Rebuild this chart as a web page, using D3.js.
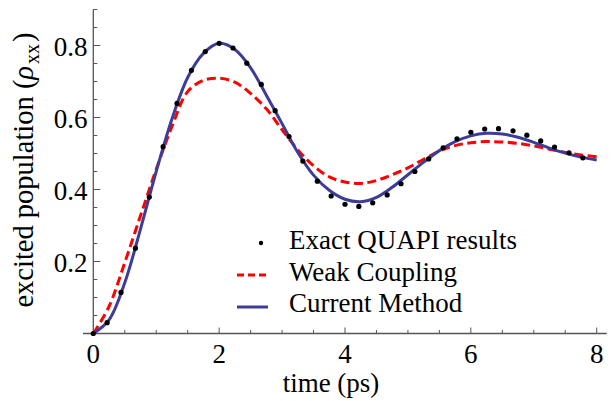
<!DOCTYPE html>
<html>
<head>
<meta charset="utf-8">
<script src="https://cdn.jsdelivr.net/npm/d3@7"></script>
<style>
  html, body { margin: 0; padding: 0; background: #fff; }
  svg text { font-family: "Liberation Serif", "Times New Roman", serif; fill: #000; }
</style>
</head>
<body>
<svg id="chart" width="611" height="401"></svg>
<script>
// ---- data ----
const times = [0,0.25,0.5,0.75,1,1.25,1.5,1.75,2,2.25,2.5,2.75,3,3.25,3.5,3.75,4,4.25,4.5,4.75,5,5.25,5.5,5.75,6,6.25,6.5,6.75,7,7.25,7.5,7.75,8];
const currentMethod = [0,0.038,0.141,0.290,0.450,0.596,0.711,0.778,0.806,0.789,0.738,0.662,0.583,0.503,0.440,0.398,0.373,0.366,0.378,0.406,0.441,0.476,0.508,0.533,0.549,0.556,0.554,0.545,0.531,0.515,0.501,0.490,0.482];
const weakCoupling = [0,0.075,0.197,0.327,0.456,0.575,0.672,0.703,0.709,0.698,0.667,0.624,0.566,0.510,0.466,0.435,0.421,0.417,0.425,0.441,0.460,0.484,0.507,0.522,0.530,0.533,0.532,0.528,0.521,0.512,0.503,0.496,0.491];
const quapiTimes = [0,0.22,0.44,0.67,0.89,1.11,1.33,1.56,1.78,2.00,2.22,2.44,2.67,2.89,3.11,3.33,3.56,3.78,4.00,4.22,4.44,4.67,4.89,5.11,5.33,5.56,5.78,6.00,6.22,6.44,6.67,6.89,7.11,7.33,7.56,7.78];
const quapiValues = [0,0.030,0.114,0.237,0.379,0.519,0.639,0.731,0.783,0.806,0.793,0.751,0.692,0.619,0.547,0.479,0.423,0.382,0.359,0.353,0.363,0.385,0.416,0.450,0.485,0.516,0.541,0.559,0.568,0.569,0.563,0.551,0.535,0.518,0.502,0.488];
const xTickLabels = [0,2,4,6,8];
const yTickLabels = [0.2,0.4,0.6,0.8];
const legendLabels = ["Exact QUAPI results","Weak Coupling","Current Method"];

// ---- drawing ----
const svg = d3.select("#chart");
const x = d3.scaleLinear().domain([0, 8]).range([93.3, 596.7]);
const y = d3.scaleLinear().domain([0, 0.9]).range([333.5, 9.5]);
const axisColor = "#555";
const blue = "#3d3d99";
const red = "#ff0000";

const axes = svg.append("g");
axes.append("line").attr("x1", 83).attr("x2", x(8.16)).attr("y1", y(0)).attr("y2", y(0))
  .attr("stroke", axisColor).attr("stroke-width", 1.3);
axes.append("line").attr("x1", x(0)).attr("x2", x(0)).attr("y1", y(0)).attr("y2", y(0.9))
  .attr("stroke", axisColor).attr("stroke-width", 1.3);

// x ticks
const xMinor = d3.range(0.5, 8.01, 0.5).filter(v => Math.abs(v - Math.round(v / 2) * 2) > 1e-6);
axes.selectAll(".xminor").data(xMinor).enter().append("line")
  .attr("x1", d => x(d)).attr("x2", d => x(d)).attr("y1", y(0)).attr("y2", y(0) - 3.5)
  .attr("stroke", axisColor).attr("stroke-width", 1);
axes.selectAll(".xmajor").data(xTickLabels.filter(d => d > 0)).enter().append("line")
  .attr("x1", d => x(d)).attr("x2", d => x(d)).attr("y1", y(0)).attr("y2", y(0) - 6)
  .attr("stroke", axisColor).attr("stroke-width", 1);
axes.selectAll(".xlab").data(xTickLabels).enter().append("text")
  .attr("x", d => x(d)).attr("y", y(0) + 29).attr("text-anchor", "middle")
  .attr("font-size", 27).text(d => d3.format("d")(d));

// y ticks
const yMinor = d3.range(0.05, 0.91, 0.05).filter(v => Math.abs(v * 5 - Math.round(v * 5)) > 1e-6);
axes.selectAll(".yminor").data(yMinor).enter().append("line")
  .attr("x1", x(0)).attr("x2", x(0) + 4).attr("y1", d => y(d)).attr("y2", d => y(d))
  .attr("stroke", axisColor).attr("stroke-width", 1);
axes.selectAll(".ymajor").data(yTickLabels).enter().append("line")
  .attr("x1", x(0)).attr("x2", x(0) + 7).attr("y1", d => y(d)).attr("y2", d => y(d))
  .attr("stroke", axisColor).attr("stroke-width", 1);
axes.selectAll(".ylab").data(yTickLabels).enter().append("text")
  .attr("x", 87.5).attr("y", d => y(d) + 10).attr("text-anchor", "end")
  .attr("font-size", 27).text(d => d3.format(".1f")(d));

// axis titles
svg.append("text").attr("x", 331).attr("y", 392).attr("text-anchor", "middle")
  .attr("font-size", 27).text("time (ps)");
const yt = svg.append("text").attr("transform", "translate(33,170) rotate(-90)")
  .attr("text-anchor", "middle").attr("font-size", 28.5);
yt.append("tspan").text("excited population (");
yt.append("tspan").attr("font-style", "italic").text("ρ");
yt.append("tspan").attr("font-size", 20).attr("dy", 6).attr("dx", 2).text("xx");
yt.append("tspan").attr("dy", -6).attr("dx", 2).text(")");

// curves
const line = d3.line().x(d => x(d[0])).y(d => y(d[1])).curve(d3.curveCatmullRom.alpha(0.5));
svg.append("path").datum(times.map((t, i) => [t, weakCoupling[i]]))
  .attr("d", line).attr("fill", "none").attr("stroke", red).attr("stroke-width", 3)
  .attr("stroke-dasharray", "9,4.5");
svg.append("path").datum(times.map((t, i) => [t, currentMethod[i]]))
  .attr("d", line).attr("fill", "none").attr("stroke", blue).attr("stroke-width", 3);
svg.selectAll(".dot").data(quapiTimes.map((t, i) => [t, quapiValues[i]])).enter().append("circle")
  .attr("cx", d => x(d[0])).attr("cy", d => y(d[1])).attr("r", 2.6).attr("fill", "#000");

// legend
const lg = svg.append("g");
const rows = [249, 281, 312];
lg.append("circle").attr("cx", 261).attr("cy", rows[0] - 6).attr("r", 2.2).attr("fill", "#000");
lg.append("line").attr("x1", 237).attr("x2", 268).attr("y1", rows[1] - 6).attr("y2", rows[1] - 6)
  .attr("stroke", red).attr("stroke-width", 3).attr("stroke-dasharray", "7,4");
lg.append("line").attr("x1", 237).attr("x2", 268).attr("y1", rows[2] - 5).attr("y2", rows[2] - 5)
  .attr("stroke", blue).attr("stroke-width", 3);
lg.selectAll(".lt").data(legendLabels).enter().append("text")
  .attr("x", 289).attr("y", (d, i) => rows[i]).attr("font-size", 27).text(d => d);
</script>
</body>
</html>
